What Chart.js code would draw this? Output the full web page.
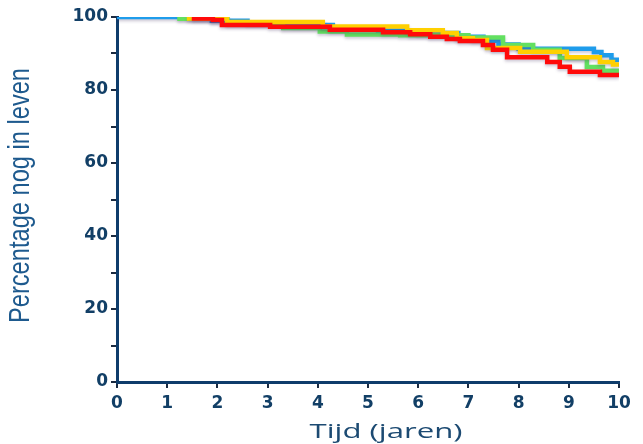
<!DOCTYPE html>
<html>
<head>
<meta charset="utf-8">
<script src="https://cdn.jsdelivr.net/npm/chart.js@4"></script>
<style>
  html, body { margin: 0; padding: 0; background: #fff; }
  #wrap { width: 643px; height: 444px; }
</style>
</head>
<body>
<div id="wrap"><canvas id="km"></canvas></div>
<script>
// survival curves: event times (years) and percentage still alive after each step
const blueT = [0, 1.89, 2.6, 3.5, 4.3, 5.2, 6.0, 6.8, 7.3, 7.6, 8.0, 9.5, 9.65, 9.85, 10]
const blueV = [100, 99.0, 98.4, 97.8, 97.0, 96.2, 95.6, 94.6, 93.5, 92.5, 91.3, 90.4, 89.5, 88.3, 88.3]

const greenT = [1.2, 2.2, 3.31, 4.04, 4.58, 5.64, 7.0, 7.69, 8.29, 8.82, 9.36, 9.68, 10]
const greenV = [99.5, 98.2, 97.0, 96.0, 95.2, 95.0, 94.4, 92.3, 91.0, 88.8, 86.3, 85.3, 85.3]

const yellowT = [1.39, 2.19, 4.1, 5.78, 6.49, 6.77, 7.09, 7.37, 8.03, 8.96, 9.62, 9.88, 10]
const yellowV = [99.6, 98.6, 97.4, 96.4, 95.6, 94.2, 93.7, 91.5, 90.5, 89.0, 87.7, 87.0, 87.0]

const redT = [1.49, 1.91, 2.09, 3.05, 4.24, 5.3, 5.84, 6.24, 6.57, 6.83, 7.29, 7.49, 7.77, 8.57, 8.82, 9.02, 9.62, 10]
const redV = [99.6, 99.2, 97.8, 97.3, 96.5, 95.8, 95.3, 94.6, 94.0, 93.4, 92.3, 91.0, 89.0, 87.7, 86.4, 85.0, 84.1, 84.1]

const xTicks = [0, 1, 2, 3, 4, 5, 6, 7, 8, 9, 10]
const yLabels = [0, 20, 40, 60, 80, 100]

const xTitle = 'Tijd (jaren)'
const yTitle = 'Percentage nog in leven'

const navy = '#0E3C6B'
const tickFont = { family: 'DejaVu Sans', weight: 'bold', size: 17 }

const pts = (ts, vs) => ts.map((t, i) => ({ x: t, y: vs[i] }))

const series = (data, color) => ({
  data: data,
  borderColor: color,
  borderWidth: 4.5,
  stepped: true,
  pointRadius: 0,
  fill: false,
})

// soft drop shadow under the curves
const lineShadow = {
  id: 'lineShadow',
  beforeDatasetsDraw(chart) {
    const ctx = chart.ctx
    ctx.save()
    ctx.shadowColor = 'rgba(60, 40, 90, 0.25)'
    ctx.shadowBlur = 3
    ctx.shadowOffsetY = 2
  },
  afterDatasetsDraw(chart) {
    chart.ctx.restore()
  }
}

// axis titles, stretched to the width the layout wants
const axisTitles = {
  id: 'axisTitles',
  afterDraw(chart) {
    const { ctx, chartArea } = chart
    ctx.save()
    ctx.textAlign = 'center'
    ctx.textBaseline = 'alphabetic'

    ctx.fillStyle = '#1E5A8E'
    ctx.font = '24px "Liberation Sans"'
    const yw = ctx.measureText(yTitle).width
    ctx.save()
    ctx.translate(28.6, (chartArea.top + chartArea.bottom) / 2 - 4)
    ctx.rotate(-Math.PI / 2)
    ctx.scale(255 / yw, 1.2)
    ctx.fillText(yTitle, 0, 0)
    ctx.restore()

    ctx.fillStyle = '#1C4A72'
    ctx.font = '20px "Open Sans"'
    const xw = ctx.measureText(xTitle).width
    ctx.translate((chartArea.left + chartArea.right) / 2 + 18, 438.3)
    ctx.scale(153 / xw, 1)
    ctx.fillText(xTitle, 0, 0)
    ctx.restore()
  }
}

new Chart(document.getElementById('km'), {
  type: 'line',
  data: {
    // first dataset is painted on top
    datasets: [
      series(pts(redT, redV), '#FF0A0A'),
      series(pts(yellowT, yellowV), '#FFD000'),
      series(pts(greenT, greenV), '#63E060'),
      series(pts(blueT, blueV), '#1E9CEB'),
    ]
  },
  options: {
    responsive: true,
    maintainAspectRatio: false,
    animation: false,
    layout: { padding: { left: 0, top: 17, right: 24, bottom: 0 } },
    plugins: {
      legend: { display: false },
      tooltip: { enabled: false }
    },
    scales: {
      x: {
        type: 'linear',
        min: 0,
        max: 10,
        afterFit: s => { s.height = 62 },
        afterBuildTicks: s => { s.ticks = xTicks.map(v => ({ value: v })) },
        ticks: { font: tickFont, color: '#123F66', padding: 5, maxRotation: 0 },
        grid: { drawOnChartArea: false, drawTicks: true, tickLength: 6, color: '#1B2A40', lineWidth: 2 },
        border: { display: true, color: navy, width: 3 }
      },
      y: {
        min: 0,
        max: 100,
        afterFit: s => { s.width = 117 },
        ticks: {
          stepSize: 10,
          font: tickFont,
          color: '#123F66',
          padding: 3,
          callback: v => yLabels.includes(v) ? String(v) : ''
        },
        grid: { drawOnChartArea: false, drawTicks: true, tickLength: 6, color: '#1B2A40', lineWidth: 2 },
        border: { display: true, color: navy, width: 3 }
      }
    }
  },
  plugins: [lineShadow, axisTitles]
})
</script>
</body>
</html>
